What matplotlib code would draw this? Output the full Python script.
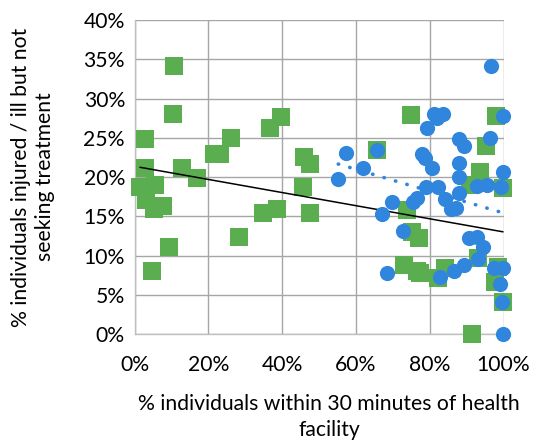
import numpy as np
import matplotlib
matplotlib.use("Agg")
import matplotlib.pyplot as plt
from matplotlib.ticker import FuncFormatter

# Green series (squares): % within 30 min of facility vs % not seeking treatment
green_x = [10.7, 10.4, 2.8, 26.1, 21.5, 23.0, 36.8, 39.6, 45.9, 47.5,
           2.7, 12.9, 17.0, 5.5, 1.5, 3.1, 7.8, 5.3,
           9.2, 4.7, 28.3, 34.9, 38.5, 47.5, 45.7,
           75.0, 65.8, 98.0, 95.2, 93.6, 90.9, 99.8,
           73.8, 75.1, 77.1, 73.0, 76.5, 77.4, 82.2, 84.1,
           93.2, 98.6, 97.7, 99.8, 91.4]
green_y = [34.2, 28.1, 24.8, 25.0, 23.0, 23.0, 26.3, 27.6, 22.6, 21.7,
           21.2, 21.2, 19.9, 19.0, 18.7, 17.1, 16.3, 15.9,
           11.1, 8.0, 12.4, 15.5, 16.0, 15.4, 18.8,
           27.9, 23.4, 27.8, 24.0, 20.7, 19.0, 18.6,
           15.8, 13.0, 12.2, 8.8, 8.0, 7.8, 7.2, 8.4,
           9.7, 8.6, 6.6, 4.1, 0.0]

# Blue series (circles)
blue_x = [96.6, 99.9, 81.1, 83.7, 82.1, 79.3, 65.7, 57.2, 87.9, 89.3,
          96.3, 77.9, 78.6, 80.7, 62.0, 87.9, 99.9, 55.2, 69.8, 67.0,
          75.5, 76.6, 72.8, 79.1, 82.3, 84.1, 87.8, 87.9, 85.9, 87.0,
          92.7, 95.4, 99.2, 90.7, 92.7, 94.5, 93.2, 89.3, 86.5, 82.8,
          97.3, 99.9, 99.1, 99.7, 99.9, 68.3]
blue_y = [34.2, 27.8, 28.0, 28.1, 27.5, 26.3, 23.4, 23.1, 24.9, 24.0,
          25.0, 23.0, 22.4, 21.2, 21.2, 21.8, 20.6, 19.8, 16.9, 15.3,
          16.8, 17.4, 13.1, 18.8, 18.8, 17.2, 20.0, 18.0, 15.9, 16.1,
          18.9, 19.0, 18.7, 12.2, 12.4, 11.1, 9.6, 8.8, 8.0, 7.3,
          8.4, 8.4, 6.4, 4.1, 0.0, 7.8]

x_ticks = [0, 20, 40, 60, 80, 100]
y_ticks = [0, 5, 10, 15, 20, 25, 30, 35, 40]

GREEN = "#5bae50"
BLUE = "#2f86dc"
GRID = "#a6a6a6"
FONT = "Lato"
FS = 15.2

fig = plt.figure(figsize=(5.44, 4.42), dpi=100)
ax = fig.add_axes([134.7 / 544, 1 - 334.3 / 442, (503.5 - 134.7) / 544, (334.3 - 20) / 442])

ax.set_xlim(x_ticks[0], x_ticks[-1])
ax.set_ylim(y_ticks[0], y_ticks[-1])
ax.set_xticks(x_ticks)
ax.set_yticks(y_ticks)
pct = FuncFormatter(lambda v, _: f"{v:.0f}%")
ax.xaxis.set_major_formatter(pct)
ax.yaxis.set_major_formatter(pct)
ax.grid(True, color=GRID, linewidth=1.0)
ax.set_axisbelow(True)
for side in ("top", "right"):
    ax.spines[side].set_visible(False)
for side in ("left", "bottom"):
    ax.spines[side].set_color("#bfbfbf")
    ax.spines[side].set_linewidth(1.0)
ax.tick_params(length=0, labelsize=FS, colors="#000000")
ax.tick_params(axis="y", pad=7)
ax.tick_params(axis="x", pad=15)
for lab in ax.get_xticklabels() + ax.get_yticklabels():
    lab.set_fontfamily(FONT)


def linear_trend(xs, ys):
    xs = np.asarray(xs, float)
    ys = np.asarray(ys, float)
    m, b = np.polyfit(xs, ys, 1)
    xx = np.array([xs.min(), xs.max()])
    return xx, m * xx + b


ax.scatter(green_x, green_y, marker="s", s=185, color=GREEN, linewidths=0, zorder=3, clip_on=False)
gx, gy = linear_trend(green_x, green_y)
ax.plot(gx, gy, color="black", linewidth=1.1, zorder=4)

ax.scatter(blue_x, blue_y, marker="o", s=120, color=BLUE, linewidths=0, zorder=5, clip_on=False)
bx, by = linear_trend(blue_x, blue_y)
ax.plot(bx, by, color=BLUE, linewidth=2.6, linestyle=(0, (0.1, 3.2)),
        dash_capstyle="round", zorder=6)

fig.text(329 / 544, 1 - 417 / 442,
         "% individuals within 30 minutes of health\nfacility",
         ha="center", va="center", fontsize=FS, fontfamily=FONT, linespacing=1.35)
fig.text(33 / 544, 1 - 177 / 442,
         "% individuals injured / ill but not\nseeking treatment",
         ha="center", va="center", rotation=90, fontsize=FS, fontfamily=FONT,
         linespacing=1.3)

fig.savefig("out.png", dpi=100)
